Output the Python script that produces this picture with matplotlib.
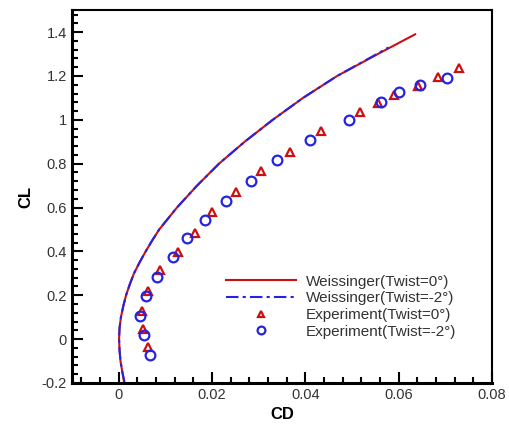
import matplotlib
matplotlib.use("Agg")
import matplotlib.pyplot as plt
from matplotlib.ticker import MultipleLocator

plt.rcParams['font.family'] = ['Liberation Sans', 'DejaVu Sans']

# Weissinger predictions
cl_w0 = [-0.2, -0.15, -0.1, -0.05, 0.0, 0.05, 0.1, 0.15, 0.2, 0.25, 0.3, 0.35,
         0.4, 0.45, 0.5, 0.6, 0.7, 0.8, 0.9, 1.0, 1.1, 1.2, 1.3, 1.39]
cd_w0 = [0.0012, 0.0008, 0.0004, 0.0002, 0.0001, 0.0002, 0.0005, 0.0010, 0.0016,
         0.0024, 0.0033, 0.0045, 0.0058, 0.0072, 0.0087, 0.0125, 0.0168, 0.0215,
         0.0270, 0.0330, 0.0395, 0.0468, 0.0555, 0.0635]
cl_w2 = [-0.2, -0.15, -0.1, -0.05, 0.0, 0.05, 0.1, 0.15, 0.2, 0.25, 0.3, 0.35,
         0.4, 0.45, 0.5, 0.6, 0.7, 0.8, 0.9, 1.0, 1.1, 1.2, 1.3, 1.33]
cd_w2 = [0.0013, 0.0008, 0.0004, 0.0002, 0.0001, 0.0002, 0.0005, 0.0010, 0.0016,
         0.0024, 0.0033, 0.0045, 0.0058, 0.0072, 0.0087, 0.0125, 0.0168, 0.0215,
         0.0270, 0.0330, 0.0395, 0.0468, 0.0553, 0.0578]

# experiment, twist = 0
cd_e0 = [0.00635, 0.0052, 0.00506, 0.00635, 0.00884, 0.01269, 0.01632, 0.0199,
         0.02524, 0.03059, 0.0368, 0.04335, 0.05162, 0.05547, 0.0589, 0.0641,
         0.0683, 0.0728]
cl_e0 = [-0.038, 0.045, 0.129, 0.22, 0.315, 0.397, 0.482, 0.58, 0.671, 0.768,
         0.851, 0.947, 1.035, 1.075, 1.114, 1.152, 1.194, 1.235]

# experiment, twist = -2
cd_e2 = [0.0067, 0.0054, 0.00456, 0.00578, 0.00813, 0.01162, 0.01455, 0.01846,
         0.02303, 0.02838, 0.03394, 0.0409, 0.04927, 0.0562, 0.05996, 0.0646, 0.0703]
cl_e2 = [-0.073, 0.018, 0.106, 0.197, 0.283, 0.374, 0.462, 0.545, 0.632, 0.723,
         0.818, 0.909, 1.0, 1.083, 1.129, 1.159, 1.19]

red = '#cc1010'
blue = '#2424e0'

fig = plt.figure(figsize=(5.1, 4.25), dpi=100)
ax = fig.add_axes([0.141, 0.099, 0.824, 0.877])

ax.plot(cd_w0, cl_w0, color=red, lw=1.5, label='Weissinger(Twist=0°)')
ax.plot(cd_w2, cl_w2, color=blue, lw=1.5, ls='-.', dashes=(6, 2, 1.5, 2),
        label='Weissinger(Twist=-2°)')
ax.plot(cd_e0, cl_e0, ls='none', marker='^', ms=6, mfc='none', mec=red, mew=1.6,
        label='Experiment(Twist=0°)')
ax.plot(cd_e2, cl_e2, ls='none', marker='o', ms=7, mfc='none', mec=blue, mew=1.6,
        label='Experiment(Twist=-2°)')

ax.set_xlim(-0.01, 0.08)
ax.set_ylim(-0.2, 1.5)
ax.set_xticks([0, 0.02, 0.04, 0.06, 0.08])
ax.set_xticklabels(['0', '0.02', '0.04', '0.06', '0.08'])
ax.set_yticks([-0.2, 0, 0.2, 0.4, 0.6, 0.8, 1, 1.2, 1.4])
ax.set_yticklabels(['-0.2', '0', '0.2', '0.4', '0.6', '0.8', '1', '1.2', '1.4'])
ax.xaxis.set_minor_locator(MultipleLocator(0.004))
ax.yaxis.set_minor_locator(MultipleLocator(0.04))
ax.tick_params(which='both', direction='in', top=False, right=False,
               labelsize=10.5, labelcolor='#333333', width=1.5)
ax.tick_params(which='major', length=8)
ax.tick_params(which='minor', length=4)
for s in ax.spines.values():
    s.set_linewidth(1.5)
ax.spines['left'].set_linewidth(2.2)
ax.spines['bottom'].set_linewidth(2.2)

ax.set_xlabel('CD', fontsize=12, fontweight='bold', labelpad=4)
ax.set_ylabel('CL', fontsize=12, fontweight='bold', labelpad=6)

leg = ax.legend(loc='upper left', bbox_to_anchor=(0.367, 0.29), frameon=False,
                fontsize=11, handlelength=4.6, handletextpad=0.6,
                labelspacing=0.17, borderaxespad=0, borderpad=0, markerscale=0.8)
for t in leg.get_texts():
    t.set_color('#333333')

fig.savefig('out.png', dpi=100)
